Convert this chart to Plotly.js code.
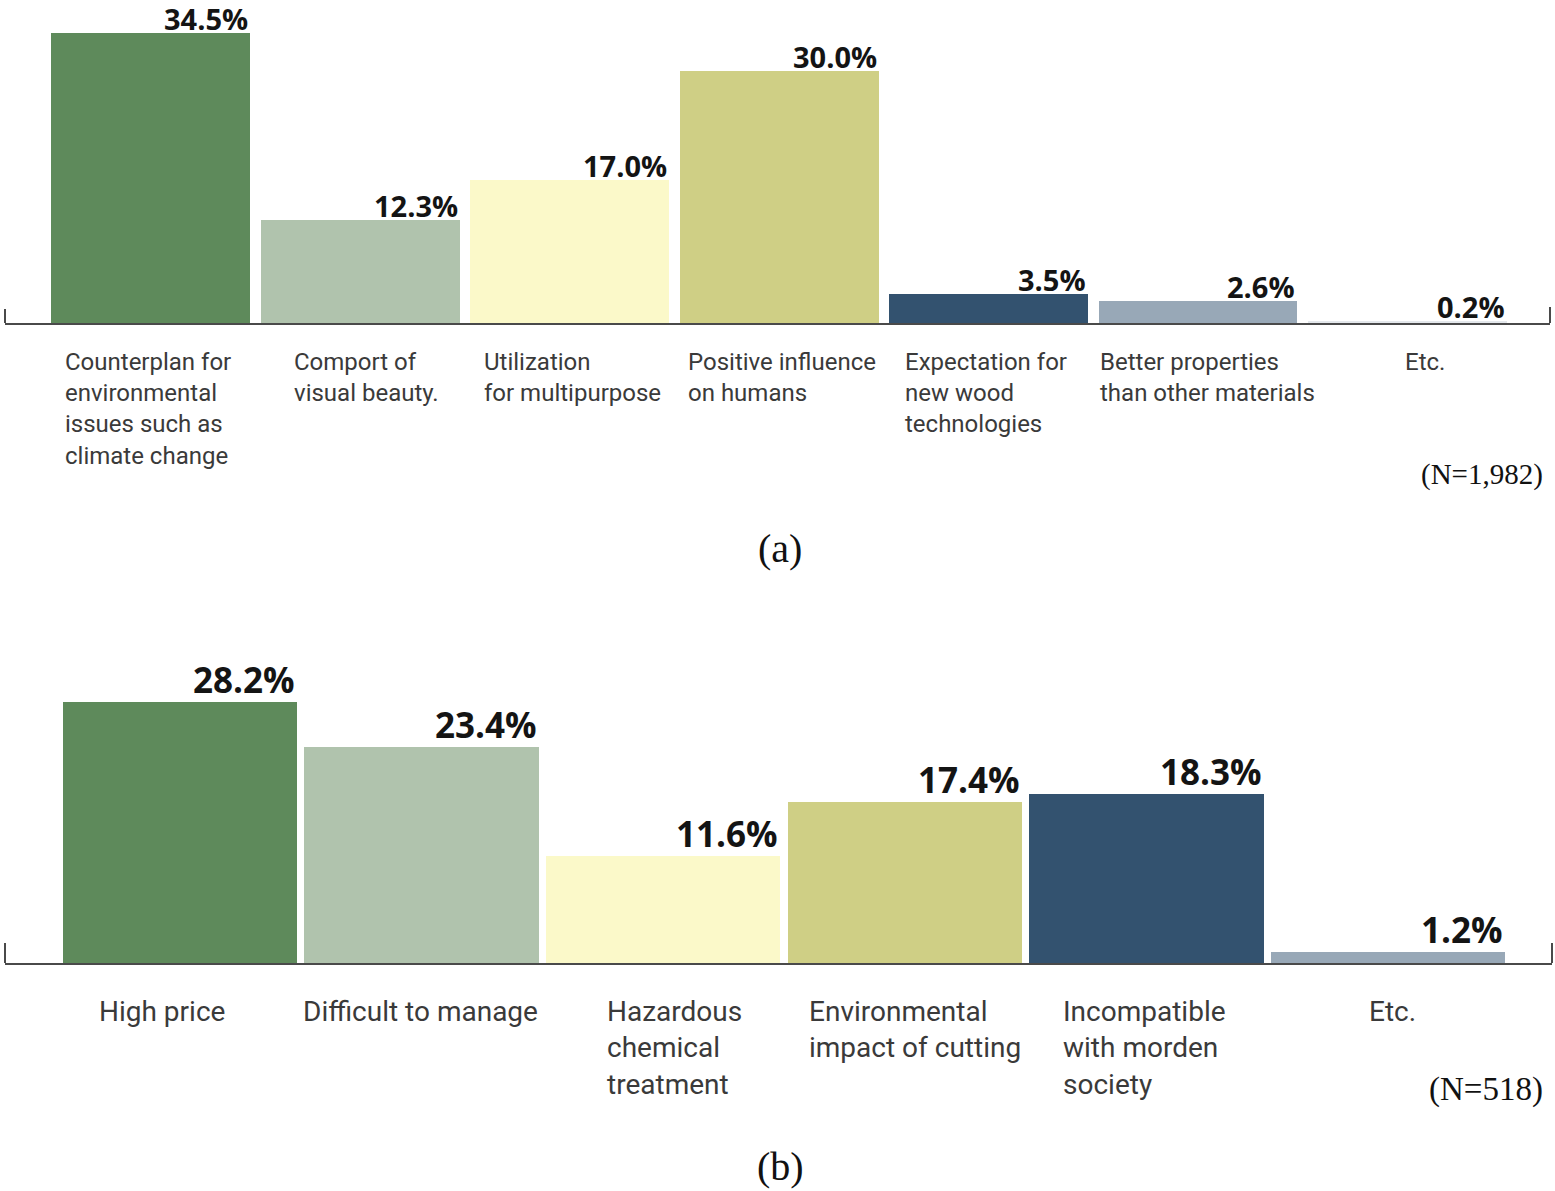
<!DOCTYPE html>
<html>
<head>
<meta charset="utf-8">
<script src="https://cdn.plot.ly/plotly-3.0.1.min.js"></script>
<style>html,body{margin:0;padding:0;background:#fff;}#chart{width:1555px;height:1191px;}</style>
</head>
<body>
<div id="chart"></div>
<script>
// ---- Data ----
const categoriesA = [
  'Counterplan for<br>environmental<br>issues such as<br>climate change',
  'Comport of<br>visual beauty.',
  'Utilization<br>for multipurpose',
  'Positive influence<br>on humans',
  'Expectation for<br>new wood<br>technologies',
  'Better properties<br>than other materials',
  'Etc.'
];
const valuesA = [34.5, 12.3, 17.0, 30.0, 3.5, 2.6, 0.2];
const sampleA = '(N=1,982)';
const panelA = '(a)';

const categoriesB = [
  'High price',
  'Difficult to manage',
  'Hazardous<br>chemical<br>treatment',
  'Environmental<br>impact of cutting',
  'Incompatible<br>with morden<br>society',
  'Etc.'
];
const valuesB = [28.2, 23.4, 11.6, 17.4, 18.3, 1.2];
const sampleB = '(N=518)';
const panelB = '(b)';

// ---- Styles ----
const colorsA = ['#5e8a5b', '#b0c3ad', '#fbf9c9', '#cfcf85', '#33526f', '#98a8b7', '#e4e8ec'];
const colorsB = ['#5e8a5b', '#b0c3ad', '#fbf9c9', '#cfcf85', '#33526f', '#98a8b7'];
const labelShiftA = [-3, 6, 3, 3, -3, 10, 18];   // pixel nudges of label blocks
const labelShiftB = [-18, -1, 11, 10, -2, 5];
const W = 1555, H = 1191;
const py = p => 1 - p / H;
const px = p => p / W;
const labelFont = 'Roboto, "Noto Sans", sans-serif';
const valueFont = '"Open Sans", Roboto, sans-serif';
const serif = '"Liberation Serif", "DejaVu Serif", serif';

const barWA = 0.95, barWB = 0.97;

const traces = [
  {type: 'bar', x: categoriesA, y: valuesA, xaxis: 'x', yaxis: 'y', width: barWA,
   marker: {color: colorsA, line: {width: 0}}, hoverinfo: 'skip', showlegend: false},
  {type: 'bar', x: categoriesB, y: valuesB, xaxis: 'x2', yaxis: 'y2', width: barWB,
   marker: {color: colorsB, line: {width: 0}}, hoverinfo: 'skip', showlegend: false}
];

const annotations = [];
valuesA.forEach((v, i) => {
  annotations.push({xref: 'x', yref: 'y', x: i + barWA / 2, y: v, xanchor: 'right', yanchor: 'bottom',
    text: v.toFixed(1) + '%', showarrow: false, yshift: -7, font: {family: valueFont, size: 29, color: '#141414', weight: 700}});
  annotations.push({xref: 'x', yref: 'y', x: i, y: 0, xanchor: 'center', yanchor: 'top', align: 'left',
    xshift: labelShiftA[i],
    text: categoriesA[i], showarrow: false, yshift: -23, font: {family: labelFont, size: 24, color: '#3a3a3a'}});
});
valuesB.forEach((v, i) => {
  annotations.push({xref: 'x2', yref: 'y2', x: i + barWB / 2, y: v, xanchor: 'right', yanchor: 'bottom',
    text: v.toFixed(1) + '%', showarrow: false, yshift: -3, font: {family: valueFont, size: 35, color: '#141414', weight: 700}});
  annotations.push({xref: 'x2', yref: 'y2', x: i, y: 0, xanchor: 'center', yanchor: 'top', align: 'left',
    xshift: labelShiftB[i],
    text: categoriesB[i], showarrow: false, yshift: -30, font: {family: labelFont, size: 28, color: '#3a3a3a'}});
});
annotations.push({xref: 'paper', yref: 'paper', x: px(1545), y: py(474), xanchor: 'right', yanchor: 'middle',
  text: sampleA, showarrow: false, font: {family: serif, size: 29, color: '#111'}});
annotations.push({xref: 'paper', yref: 'paper', x: px(1545), y: py(1089), xanchor: 'right', yanchor: 'middle',
  text: sampleB, showarrow: false, font: {family: serif, size: 33, color: '#111'}});
annotations.push({xref: 'paper', yref: 'paper', x: px(780), y: py(548), xanchor: 'center', yanchor: 'middle',
  text: panelA, showarrow: false, font: {family: serif, size: 40, color: '#111'}});
annotations.push({xref: 'paper', yref: 'paper', x: px(780), y: py(1166), xanchor: 'center', yanchor: 'middle',
  text: panelB, showarrow: false, font: {family: serif, size: 40, color: '#111'}});

const tickShape = (xr, yr, xd, h) => ({type: 'line', xref: xr + ' domain', yref: yr, x0: xd, x1: xd,
  ysizemode: 'pixel', yanchor: 0, y0: 0, y1: h, line: {color: '#4a4a4a', width: 2}});

const axisX = {type: 'category', showticklabels: false, ticks: '', showgrid: false, zeroline: false,
  showline: true, linecolor: '#4a4a4a', linewidth: 2, fixedrange: true};
const axisY = {visible: false, showgrid: false, zeroline: false, fixedrange: true};

const layout = {
  width: W, height: H,
  margin: {l: 0, r: 0, t: 0, b: 0},
  paper_bgcolor: '#fff', plot_bgcolor: 'rgba(0,0,0,0)',
  bargap: 0,
  xaxis: Object.assign({}, axisX, {domain: [px(5), px(1550)], range: [-0.697, 6.681], anchor: 'y'}),
  yaxis: Object.assign({}, axisY, {domain: [py(323), py(323 - 36 * 8.4)], range: [0, 36], anchor: 'x'}),
  xaxis2: Object.assign({}, axisX, {domain: [px(5), px(1552)], range: [-0.724, 5.679], anchor: 'y2'}),
  yaxis2: Object.assign({}, axisY, {domain: [py(963), py(963 - 31 * 9.25)], range: [0, 31], anchor: 'x2'}),
  annotations: annotations,
  shapes: [
    tickShape('x', 'y', 0, 14), tickShape('x', 'y', 1, 16),
    tickShape('x2', 'y2', 0, 20), tickShape('x2', 'y2', 1, 20)
  ]
};

Plotly.newPlot('chart', traces, layout, {displayModeBar: false, staticPlot: true});
</script>
</body>
</html>
